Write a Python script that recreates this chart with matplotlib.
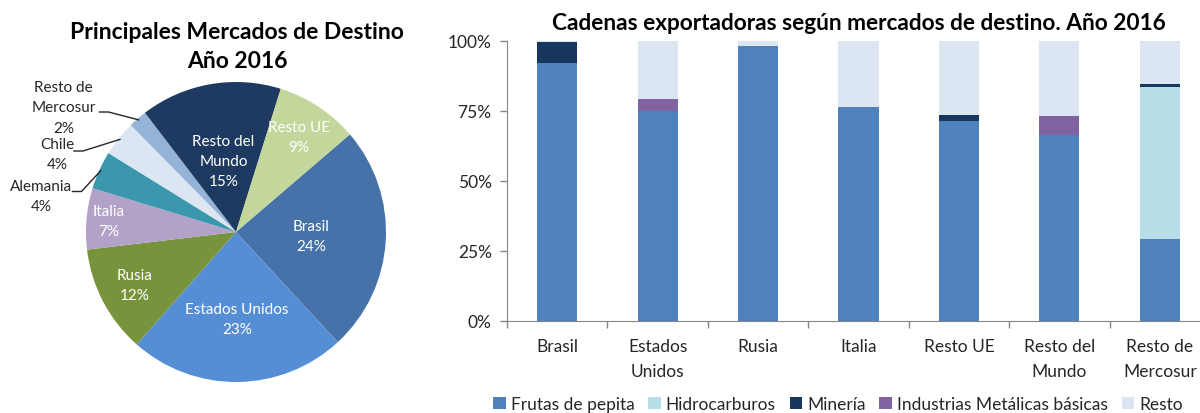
import matplotlib.pyplot as plt
import numpy as np

plt.rcParams['font.family'] = ['Lato', 'DejaVu Sans']

# destination market shares (pie)
markets = ['Brasil', 'Estados Unidos', 'Rusia', 'Italia', 'Alemania', 'Chile',
           'Resto de\nMercosur', 'Resto del\nMundo', 'Resto UE']
shares = [24.4, 23.4, 11.6, 6.6, 4.1, 3.8, 2.0, 15.2, 8.9]

# export chains by destination (stacked bars, %)
destinations = ['Brasil', 'Estados\nUnidos', 'Rusia', 'Italia', 'Resto UE',
                'Resto del\nMundo', 'Resto de\nMercosur']
frutas = [92.0, 75.0, 98.3, 76.3, 71.3, 66.4, 29.3]
hidrocarburos = [0.0, 0.0, 0.0, 0.0, 0.0, 0.0, 54.2]
mineria = [7.8, 0.0, 0.0, 0.0, 2.4, 0.0, 1.0]
industrias = [0.0, 4.3, 0.0, 0.0, 0.0, 6.7, 0.0]
resto = [0.2, 20.7, 1.7, 23.7, 26.3, 26.9, 15.5]

pie_colors = ['#4772A9', '#558ED5', '#77933C', '#B3A2C7', '#3A97AE',
              '#DCE6F2', '#95B3D7', '#1F3A60', '#C3D69B']
# label radius (fraction of pie radius) for labels drawn inside the wedges
inner_r = {'Brasil': 0.50, 'Estados Unidos': 0.58, 'Rusia': 0.76, 'Italia': 0.85,
           'Resto del\nMundo': 0.48, 'Resto UE': 0.76}
# outside labels: text centre and elbow of the leader line
outer_pos = {'Alemania': ((-1.30, 0.24), (-1.03, 0.27)),
             'Chile': ((-1.19, 0.52), (-1.02, 0.54)),
             'Resto de\nMercosur': ((-1.15, 0.83), (-0.85, 0.80))}

fig = plt.figure(figsize=(12, 4.14), dpi=100)

# ---- pie ----
axp = fig.add_axes([86 / 1200, 31 / 414, 300 / 1200, 300 / 414])
wedges, _ = axp.pie(shares, colors=pie_colors, startangle=40.6,
                    counterclock=False, radius=1.0,
                    wedgeprops=dict(linewidth=0))
axp.set_xlim(-1, 1)
axp.set_ylim(-1, 1)
axp.set_aspect('equal')

for w, name, val in zip(wedges, markets, shares):
    mid = np.deg2rad((w.theta1 + w.theta2) / 2)
    label = f'{name}\n{val:.0f}%'
    if name in inner_r:
        r = inner_r[name]
        axp.text(r * np.cos(mid), r * np.sin(mid), label, ha='center',
                 va='center', color='white', fontsize=11, linespacing=1.55)
    else:
        (tx, ty), (ex, ey) = outer_pos[name]
        axp.text(tx, ty, label, ha='center', va='center', color='#262626',
                 fontsize=11, linespacing=1.55, clip_on=False)
        px, py = 0.99 * np.cos(mid), 0.99 * np.sin(mid)
        axp.plot([ex - 0.06, ex, px], [ey, ey, py], color='#262626', lw=1,
                 clip_on=False)

fig.text(237 / 1200, 1 - 47 / 414, 'Principales Mercados de Destino\nAño 2016',
         ha='center', va='center', fontsize=16.5, fontweight='bold',
         linespacing=1.42)

# ---- stacked bars ----
ax = fig.add_axes([507 / 1200, 92 / 414, 703 / 1200, 280 / 414])
x = np.arange(len(destinations))
series = [('Frutas de pepita', frutas, '#4F81BD'),
          ('Hidrocarburos', hidrocarburos, '#B7DEE8'),
          ('Minería', mineria, '#17375E'),
          ('Industrias Metálicas básicas', industrias, '#8064A2'),
          ('Resto', resto, '#DCE6F2')]
bottom = np.zeros(len(destinations))
for name, vals, col in series:
    vals = np.array(vals) / 100
    ax.bar(x, vals, 0.4, bottom=bottom, color=col, label=name, linewidth=0)
    bottom += vals

ax.set_xlim(-0.5, len(destinations) - 0.5)
ax.set_ylim(0, 1)
ax.set_yticks([0, 0.25, 0.5, 0.75, 1.0])
ax.set_yticklabels(['0%', '25%', '50%', '75%', '100%'])
ax.set_xticks(x)
ax.set_xticklabels(destinations, linespacing=1.7)
ax.set_xticks(np.arange(-0.5, len(destinations)), minor=True)
ax.tick_params(axis='x', which='major', length=0, pad=12, labelsize=12.5,
               labelcolor='#262626')
ax.tick_params(axis='x', which='minor', length=5, color='#868686', width=1)
ax.tick_params(axis='y', length=5, color='#868686', width=1, pad=6,
               labelsize=12.5, labelcolor='#262626')
for s in ['top', 'right']:
    ax.spines[s].set_visible(False)
for s in ['left', 'bottom']:
    ax.spines[s].set_color('#868686')
ax.set_title('Cadenas exportadoras según mercados de destino. Año 2016',
             fontsize=16.3, fontweight='bold', pad=9)

ax.legend(loc='center', bbox_to_anchor=(838 / 1200, 1 - 405 / 414),
          bbox_transform=fig.transFigure, ncol=5, frameon=False,
          fontsize=12.5, handlelength=0.7, handleheight=0.7,
          handletextpad=0.3, columnspacing=0.8, labelcolor='#262626')

fig.savefig('out.png', dpi=100)
